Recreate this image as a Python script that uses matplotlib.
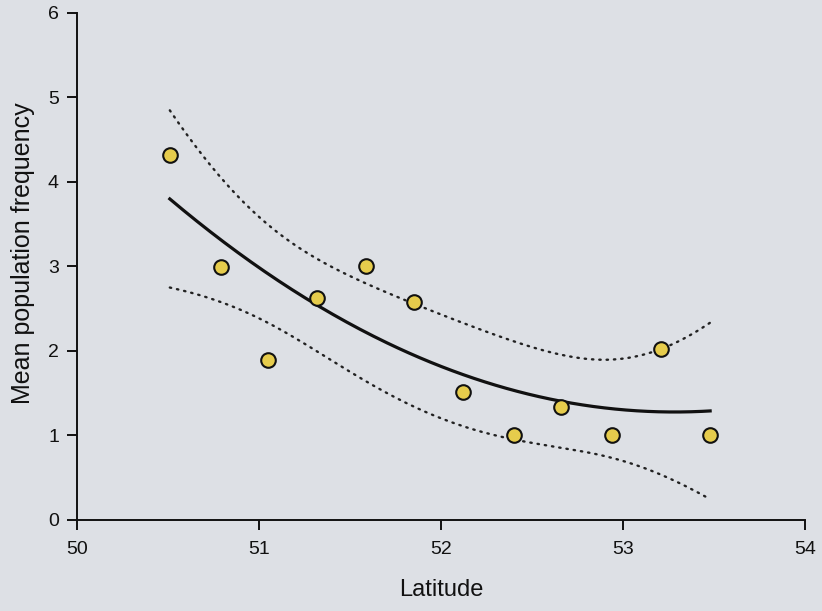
import numpy as np
import matplotlib
matplotlib.use("Agg")
import matplotlib.pyplot as plt

# Observed data
latitude = [50.51, 50.79, 51.05, 51.32, 51.59, 51.85, 52.12, 52.40, 52.66, 52.94, 53.21, 53.48]
frequency = [4.32, 2.99, 1.89, 2.63, 3.00, 2.58, 1.51, 1.00, 1.34, 1.00, 2.02, 1.00]

x_ticks = [50, 51, 52, 53, 54]
y_ticks = [0, 1, 2, 3, 4, 5, 6]

plt.rcParams['font.family'] = ['Liberation Sans', 'DejaVu Sans']

fig = plt.figure(figsize=(8.22, 6.11), dpi=100)
bg = '#DDE0E5'
fig.patch.set_facecolor(bg)
ax = fig.add_axes([0.0937, 0.149, 0.979 - 0.0937, 0.979 - 0.149])
ax.set_facecolor(bg)

x = np.array(latitude)
y = np.array(frequency)
# Quadratic regression with 95% confidence band
coef = np.polyfit(x, y, 2)
xs = np.linspace(x.min(), x.max(), 200)
fit = np.polyval(coef, xs)
X = np.vstack([x**2, x, np.ones_like(x)]).T
resid = y - np.polyval(coef, x)
n, p = X.shape
s2 = np.sum(resid**2) / (n - p)
XtXi = np.linalg.inv(X.T @ X)
Xs = np.vstack([xs**2, xs, np.ones_like(xs)]).T
se = np.sqrt(s2 * np.einsum('ij,jk,ik->i', Xs, XtXi, Xs))
t = 2.262
ax.plot(xs, fit + t * se, color='#222222', lw=1.7, linestyle=(0, (0.6, 2.5)), dash_capstyle='round')
ax.plot(xs, fit - t * se, color='#222222', lw=1.7, linestyle=(0, (0.6, 2.5)), dash_capstyle='round')
ax.plot(xs, fit, color='#111111', lw=2.3)

ax.plot(x, y, 'o', ms=10.5, mfc='#E6CC4C', mec='#111111', mew=1.5, zorder=5)

ax.set_xlim(50, 54)
ax.set_ylim(0, 6)
ax.set_xticks(x_ticks)
ax.set_yticks(y_ticks)
for s in ['top', 'right']:
    ax.spines[s].set_visible(False)
for s in ['left', 'bottom']:
    ax.spines[s].set_linewidth(1.4)
    ax.spines[s].set_color('#111111')
ax.tick_params(direction='out', length=7, width=1.4, labelsize=14, colors='#111111')
ax.tick_params(axis='x', pad=8)
ax.tick_params(axis='y', pad=6)
ax.set_xlabel('Latitude', fontsize=17, labelpad=15, color='#111111')
ax.set_ylabel('Mean population frequency', fontsize=18, color='#111111')
ax.yaxis.set_label_coords(-0.058, 0.527)

fig.savefig('out.png', dpi=100, facecolor=bg)
